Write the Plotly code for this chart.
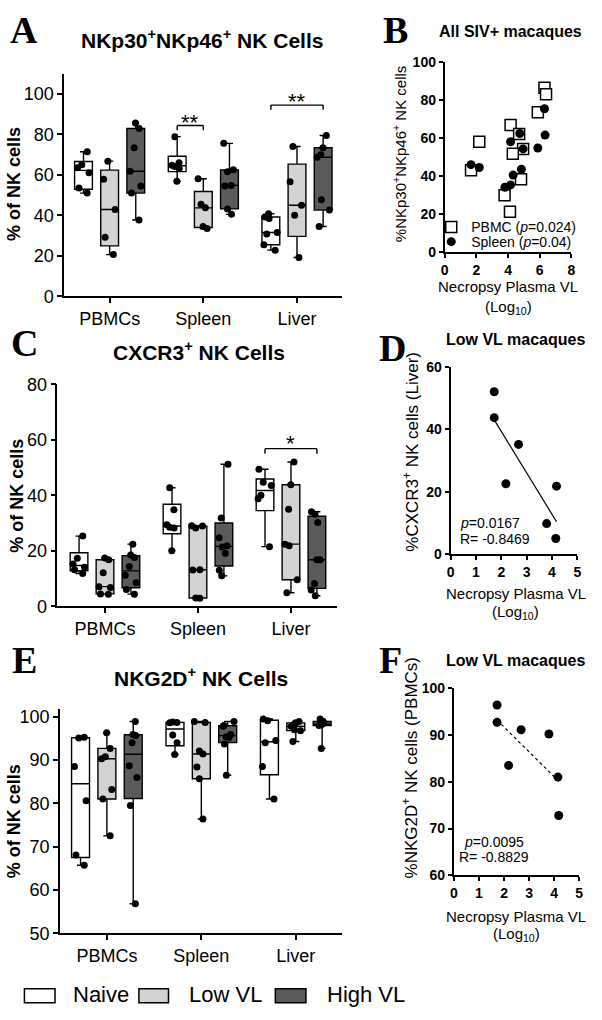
import numpy as np
import plotly.graph_objects as go

W, H = 602, 1020
FONT = "Liberation Sans, Arial, sans-serif"
SERIF = "Liberation Serif, Times New Roman, serif"

# ---------------- data ----------------
tissues = ["PBMCs", "Spleen", "Liver"]
groups = ["Naive", "Low VL", "High VL"]
group_fills = ["#ffffff", "#d3d3d3", "#5b5b5b"]

# Panel A: NKp30+NKp46+ NK cells (% of NK cells), per tissue [PBMCs, Spleen, Liver]
nkp_naive = [[71.4, 65.0, 63.5, 61.0, 53.5, 51.0],
             [78.9, 66.0, 64.8, 64.2, 63.2, 56.8],
             [40.8, 39.2, 38.5, 31.5, 30.8, 25.5, 22.8]]
nkp_low = [[66.8, 57.9, 42.9, 29.2, 20.6],
           [58.1, 45.5, 43.7, 34.5, 33.5],
           [74.0, 56.6, 45.0, 40.0, 19.2]]
nkp_high = [[85.6, 82.9, 73.4, 61.8, 54.5, 51.0, 37.7],
            [75.6, 62.5, 61.5, 54.8, 54.5, 43.2, 40.5],
            [79.5, 73.4, 70.0, 68.7, 47.7, 42.6, 34.5]]

# Panel C: CXCR3+ NK cells
cxcr3_naive = [[25.3, 17.3, 15.3, 14.1, 13.2, 11.8],
               [42.7, 34.8, 29.4, 28.5, 28.2, 20.0],
               [49.4, 44.7, 43.5, 40.0, 38.8, 21.5]]
cxcr3_low = [[17.4, 16.8, 12.1, 7.1, 6.8, 4.5, 4.4],
             [29.0, 28.9, 28.2, 13.2, 13.1, 3.0, 2.9],
             [52.0, 43.8, 35.0, 22.4, 21.8, 9.6, 4.9]]
cxcr3_high = [[22.4, 18.5, 17.6, 14.4, 11.2, 8.5, 6.1, 4.4],
              [51.2, 31.8, 24.7, 21.8, 21.4, 19.1, 13.0, 11.0],
              [34.1, 33.2, 30.2, 16.8, 16.8, 8.2, 5.9, 3.8]]

# Panel E: NKG2D+ NK cells
nkg2d_naive = [[95.3, 95.1, 88.5, 80.6, 68.1, 65.7],
               [98.8, 98.7, 98.6, 95.8, 94.0, 91.3],
               [99.5, 99.1, 94.5, 94.0, 88.5, 81.0]]
nkg2d_low = [[96.3, 92.7, 90.8, 90.3, 83.2, 81.0, 72.5],
             [98.9, 98.7, 92.1, 91.4, 88.4, 85.7, 76.4],
             [98.9, 98.6, 98.3, 97.8, 97.0, 96.8, 94.3]]
nkg2d_high = [[98.9, 95.9, 95.7, 94.0, 88.7, 86.0, 79.5, 56.8],
              [98.9, 98.0, 97.8, 95.9, 95.4, 95.2, 93.7, 86.5],
              [99.5, 98.9, 98.7, 98.3, 98.2, 98.0, 92.7]]

# Panel B: all SIV+ macaques, necropsy plasma VL (log10) vs % NKp30+NKp46+
vl_pbmc = [6.3, 6.4, 5.88, 4.16, 2.18, 4.7, 4.95, 4.3, 1.66, 4.82, 3.78, 4.12]
nkp_pbmc = [86.6, 83.1, 73.6, 66.9, 58.1, 62.1, 54.3, 51.7, 43.1, 38.3, 29.8, 21.2]
vl_spleen = [6.3, 6.34, 5.88, 4.74, 4.16, 4.95, 1.66, 2.18, 4.84, 4.32, 4.16, 3.8]
nkp_spleen = [75.5, 61.6, 54.8, 62.4, 58.1, 54.3, 46.0, 44.5, 43.6, 40.5, 35.3, 34.1]

# Panels D and F: low VL macaques
low_vl = [1.72, 1.72, 2.18, 2.68, 3.79, 4.15, 4.18]
cxcr3_liver_low = [52.1, 43.8, 22.6, 35.2, 9.8, 5.0, 21.8]
nkg2d_pbmc_low = [96.4, 92.7, 83.5, 91.1, 90.2, 81.0, 72.8]


# ---------------- helpers ----------------
def px(x):
    return x / W


def py(y):
    return 1 - y / H


fig = go.Figure()
offsets = [-0.279, 0.0, 0.279]
box_w = 0.19


def add_box_panel(datasets, xa, ya):
    for g, data in enumerate(datasets):
        pos = [t + offsets[g] for t in range(len(data))]
        q1 = [float(np.percentile(d, 25, method="weibull")) for d in data]
        med = [float(np.percentile(d, 50, method="weibull")) for d in data]
        q3 = [float(np.percentile(d, 75, method="weibull")) for d in data]
        lo = [min(d) for d in data]
        hi = [max(d) for d in data]
        fig.add_trace(go.Box(x=pos, q1=q1, median=med, q3=q3, lowerfence=lo, upperfence=hi,
                             fillcolor=group_fills[g], line=dict(color="black", width=1.4),
                             width=box_w, whiskerwidth=0.4, boxpoints=False,
                             xaxis=xa, yaxis=ya, showlegend=False, hoverinfo="skip"))
        xs = [p for p, d in zip(pos, data) for _ in d]
        ys = [v for d in data for v in d]
        fig.add_trace(go.Box(x=xs, y=ys, boxpoints="all", jitter=0.8, pointpos=0,
                             fillcolor="rgba(0,0,0,0)",
                             line=dict(color="rgba(0,0,0,0)", width=0),
                             marker=dict(color="black", size=7), width=box_w,
                             xaxis=xa, yaxis=ya, showlegend=False, hoverinfo="skip"))


add_box_panel([nkp_naive, nkp_low, nkp_high], "x", "y")
add_box_panel([cxcr3_naive, cxcr3_low, cxcr3_high], "x3", "y3")
add_box_panel([nkg2d_naive, nkg2d_low, nkg2d_high], "x5", "y5")

# Panel B scatter
fig.add_trace(go.Scatter(x=vl_pbmc, y=nkp_pbmc, mode="markers", xaxis="x2", yaxis="y2",
                         name="PBMC (<i>p</i>=0.024)", legend="legend",
                         marker=dict(symbol="square", size=11, color="white",
                                     line=dict(color="black", width=1.5))))
fig.add_trace(go.Scatter(x=vl_spleen, y=nkp_spleen, mode="markers", xaxis="x2", yaxis="y2",
                         name="Spleen (<i>p</i>=0.04)", legend="legend2",
                         marker=dict(symbol="circle", size=9, color="black")))


def add_reg_panel(xv, yv, xa, ya, dash):
    slope, icpt = np.polyfit(xv, yv, 1)
    xl = [min(xv), max(xv)]
    fig.add_trace(go.Scatter(x=xl, y=[slope * v + icpt for v in xl], mode="lines",
                             line=dict(color="black", width=1.2, dash=dash),
                             xaxis=xa, yaxis=ya, showlegend=False, hoverinfo="skip"))
    fig.add_trace(go.Scatter(x=xv, y=yv, mode="markers", xaxis=xa, yaxis=ya,
                             marker=dict(color="black", size=9), showlegend=False,
                             hoverinfo="skip"))


add_reg_panel(low_vl, cxcr3_liver_low, "x4", "y4", "solid")
add_reg_panel(low_vl, nkg2d_pbmc_low, "x6", "y6", "dot")


# ---------------- axes ----------------
def box_axes(x0, x1, y0, y1, xr, yr, ytv, xid, yid):
    xa = dict(domain=[px(x0), px(x1)], range=xr, anchor=yid, tickvals=[0, 1, 2],
              ticktext=tissues, showgrid=False, zeroline=False, showline=True,
              linecolor="black", linewidth=1.5, ticks="outside", ticklen=5, tickwidth=1.5,
              tickcolor="black", tickfont=dict(family=FONT, size=18, color="black"),
              fixedrange=True)
    ya = dict(domain=[py(y1), py(y0)], range=yr, anchor=xid, tickvals=ytv,
              showgrid=False, zeroline=False, showline=True, linecolor="black",
              linewidth=1.5, ticks="outside", ticklen=5, tickwidth=1.5, tickcolor="black",
              tickfont=dict(family=FONT, size=18, color="black"), fixedrange=True)
    return xa, ya


def sc_axes(x0, x1, y0, y1, xr, yr, xtv, ytv, xid, yid):
    xa = dict(domain=[px(x0), px(x1)], range=xr, anchor=yid, tickvals=xtv,
              showgrid=False, zeroline=False, showline=True, linecolor="black",
              linewidth=2, ticks="outside", ticklen=4, tickwidth=2, tickcolor="black",
              tickfont=dict(family=FONT, size=14, color="black", weight="bold"),
              fixedrange=True)
    ya = dict(domain=[py(y1), py(y0)], range=yr, anchor=xid, tickvals=ytv,
              showgrid=False, zeroline=False, showline=True, linecolor="black",
              linewidth=2, ticks="outside", ticklen=4, tickwidth=2, tickcolor="black",
              tickfont=dict(family=FONT, size=14, color="black", weight="bold"),
              fixedrange=True)
    return xa, ya


xA, yA = box_axes(61, 343, 65, 292, [-0.485, 2.485], [0, 110], [0, 20, 40, 60, 80, 100], "x", "y")
xC, yC = box_axes(54, 337, 381.7, 608.3, [-0.513, 2.49], [0, 80], [0, 20, 40, 60, 80], "x3", "y3")
xE, yE = box_axes(56.7, 343, 713, 941.7, [-0.497, 2.494], [50, 101.8], [50, 60, 70, 80, 90, 100], "x5", "y5")
xB, yB = sc_axes(446.7, 575, 53.3, 246.7, [0, 8], [0, 100], [0, 2, 4, 6, 8], [0, 20, 40, 60, 80, 100], "x2", "y2")
xD, yD = sc_axes(452.7, 581, 364.3, 555, [0, 5], [0, 60], [0, 1, 2, 3, 4, 5], [0, 20, 40, 60], "x4", "y4")
xF, yF = sc_axes(456, 583, 691.7, 882.7, [0, 5], [60, 100], [0, 1, 2, 3, 4, 5], [60, 70, 80, 90, 100], "x6", "y6")

# ---------------- annotations ----------------
ann = []


def text(x, y, s, size, bold=False, family=FONT, angle=0, xanchor="center"):
    f = dict(family=family, size=size, color="black")
    if bold:
        f["weight"] = "bold"
    ann.append(dict(x=px(x), y=py(y), xref="paper", yref="paper", text=s, showarrow=False,
                    xanchor=xanchor, yanchor="middle", textangle=angle, font=f))


# panel letters
for lx, ly, L in [(20, 20, "A"), (397, 20, "B"), (21, 340, "C"), (394, 345, "D"),
                  (21, 663, "E"), (392, 663, "F")]:
    text(lx, ly, L, 38, bold=True, family=SERIF)

# titles
text(201, 30, "NKp30<sup>+</sup>NKp46<sup>+</sup> NK Cells", 21, bold=True)
text(197.5, 348, "CXCR3<sup>+</sup> NK Cells", 21, bold=True)
text(200, 680, "NKG2D<sup>+</sup> NK Cells", 21, bold=True)
text(513, 22, "All SIV+ macaques", 16, bold=True)
text(518.5, 336, "Low VL macaques", 16, bold=True)
text(518.5, 663, "Low VL macaques", 16, bold=True)

# y titles
text(9.5, 177, "% of NK cells", 18, bold=True, angle=-90)
text(13.7, 496, "% of NK cells", 18, bold=True, angle=-90)
text(9.5, 827, "% of NK cells", 18, bold=True, angle=-90)
text(400.7, 146.7, "%NKp30<sup>+</sup>NKp46<sup>+</sup> NK cells", 15, angle=-90)
text(413, 451, "%CXCR3<sup>+</sup> NK cells (Liver)", 17, angle=-90)
text(411, 773, "%NKG2D<sup>+</sup> NK cells (PBMCs)", 17, angle=-90)

# x titles (scatter panels)
for cx, y1, y2, fs in [(510.8, 281.7, 303, 15), (518.8, 595, 615, 15), (519.2, 925, 943, 15)]:
    text(cx, y1, "Necropsy Plasma VL", fs)
    text(cx, y2, "(Log<sub>10</sub>)", fs)

# correlation stats
text(460, 523.3, "<i>p</i>=0.0167", 14, xanchor="left")
text(460, 540, "R= -0.8469", 14, xanchor="left")
text(497, 848.3, "<i>p</i>=0.0095", 14)
text(497, 864, "R= -0.8829", 14)

# significance stars (data coords)
for xr_, yr_, xx, yy, s in [("x", "y", 0.86, 86.0, "**"), ("x", "y", 2.0, 96.1, "**"),
                            ("x3", "y3", 2.0, 58.8, "*")]:
    ann.append(dict(x=xx, y=yy, xref=xr_, yref=yr_, text=s, showarrow=False,
                    xanchor="center", yanchor="middle",
                    font=dict(family=FONT, size=22, color="black")))

# bottom legend labels
text(68, 1004.5, "Naive", 22, xanchor="left")
text(185, 1004.5, "Low VL", 22, xanchor="left")
text(325, 1004.5, "High VL", 22, xanchor="left")

# ---------------- shapes ----------------
shapes = []


def bracket(xref, yref, x0, x1, y, drop):
    ln = dict(color="black", width=1.4)
    shapes.append(dict(type="line", xref=xref, yref=yref, x0=x0, x1=x1, y0=y, y1=y, line=ln))
    shapes.append(dict(type="line", xref=xref, yref=yref, x0=x0, x1=x0, y0=y, y1=y - drop, line=ln))
    shapes.append(dict(type="line", xref=xref, yref=yref, x0=x1, x1=x1, y0=y, y1=y - drop, line=ln))


bracket("x", "y", 1 + offsets[0], 1 + offsets[1], 84.4, 2.3)
bracket("x", "y", 2 + offsets[0], 2 + offsets[2], 94.5, 2.3)
bracket("x3", "y3", 2 + offsets[0], 2 + offsets[2], 56.8, 1.8)

for (x0, x1), fill in zip([(20.7, 51.7), (136.7, 166.7), (275, 306)], group_fills):
    shapes.append(dict(type="rect", xref="paper", yref="paper", x0=px(x0), x1=px(x1),
                       y0=py(1012.7), y1=py(998.3), fillcolor=fill,
                       line=dict(color="black", width=1.5)))

leg_common = dict(xanchor="left", yanchor="middle", bgcolor="rgba(0,0,0,0)", borderwidth=0,
                  font=dict(family=FONT, size=14, color="black"), itemwidth=30)

fig.update_layout(
    width=W, height=H, margin=dict(l=0, r=0, t=0, b=0),
    paper_bgcolor="white", plot_bgcolor="white",
    boxmode="overlay", showlegend=True,
    xaxis=xA, yaxis=yA, xaxis2=xB, yaxis2=yB, xaxis3=xC, yaxis3=yC,
    xaxis4=xD, yaxis4=yD, xaxis5=xE, yaxis5=yE, xaxis6=xF, yaxis6=yF,
    annotations=ann, shapes=shapes,
    legend=dict(x=px(433), y=py(221.7), **leg_common),
    legend2=dict(x=px(433), y=py(236.7), **leg_common),
    font=dict(family=FONT, color="black"),
)

fig.write_html(
    "out.html",
    config={"displayModeBar": False},
    post_script="document.body.style.margin='0px';document.body.style.padding='0px';"
                "document.documentElement.style.overflow='hidden';",
)
